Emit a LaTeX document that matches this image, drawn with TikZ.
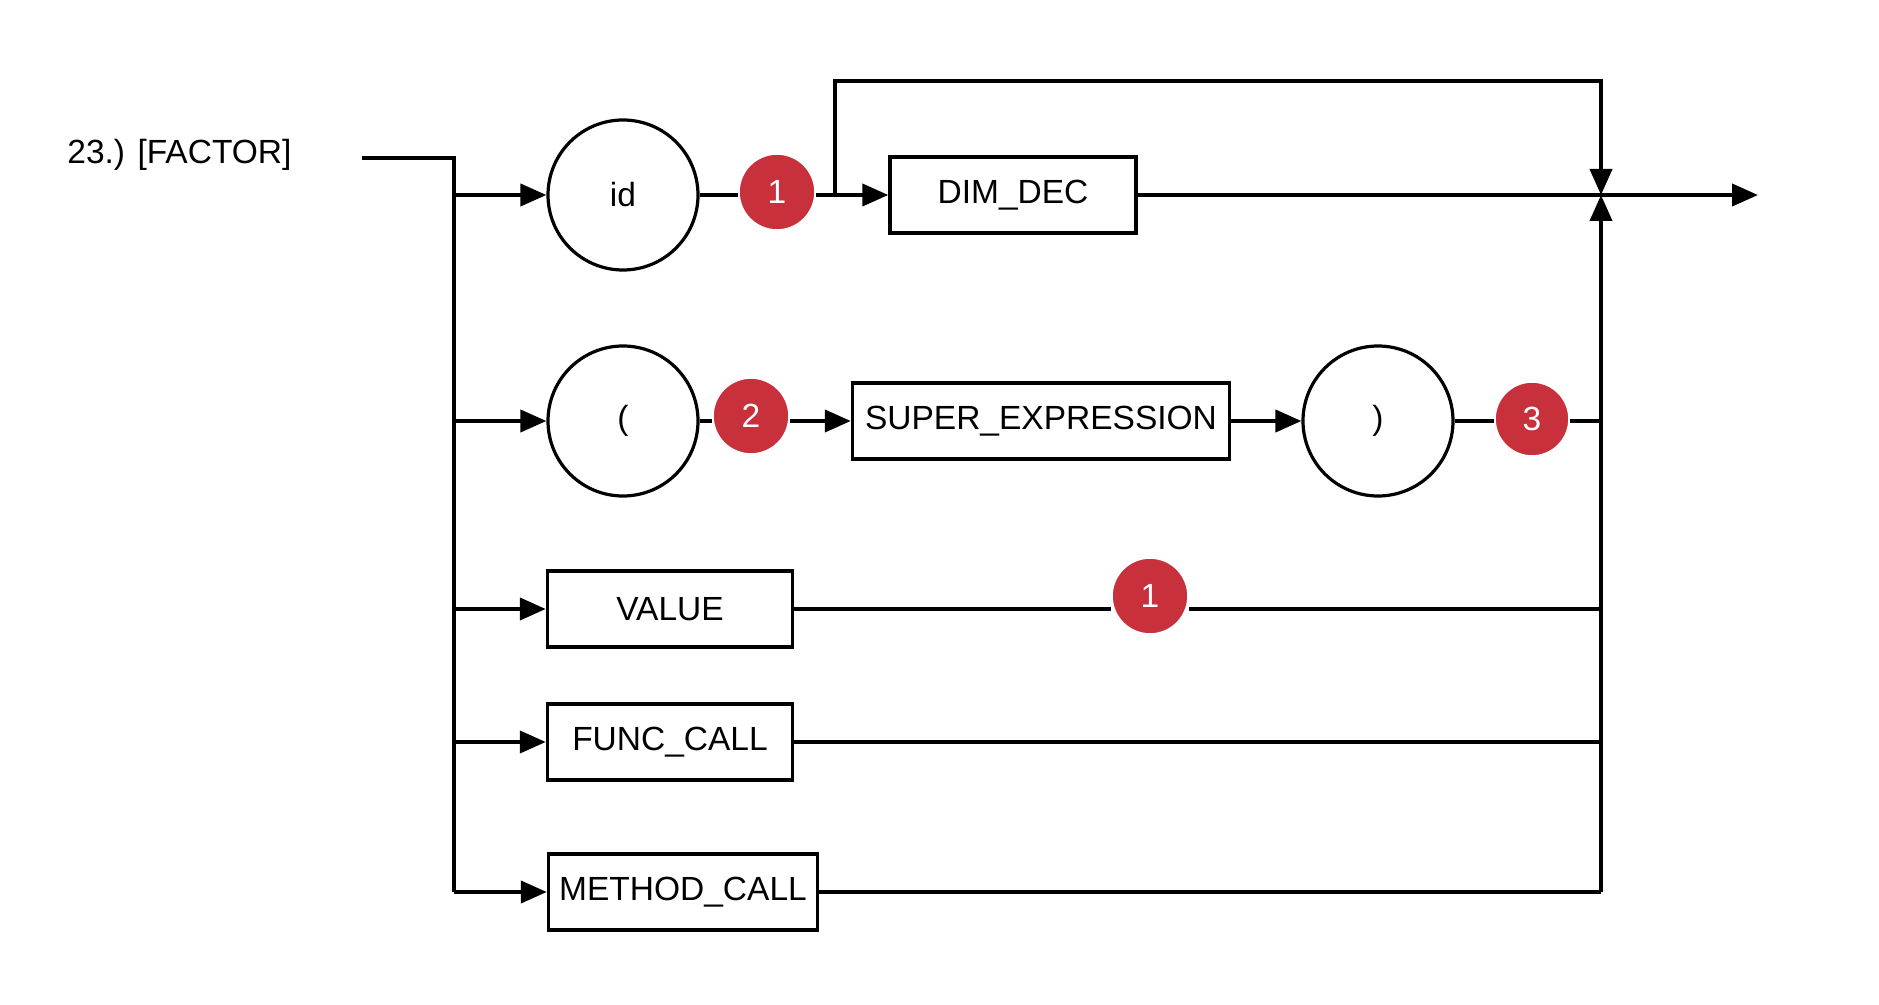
\documentclass[tikz,border=0pt]{standalone}
\usepackage{fontspec}
\setmainfont{Liberation Sans}
\usetikzlibrary{arrows.meta}
\definecolor{badgered}{RGB}{200,48,60}

\tikzset{
    rulebox/.style={draw, line width=1.7pt, minimum height=38pt, inner sep=0pt},
    termcircle/.style={draw, circle, line width=1.6pt, minimum size=75pt, inner sep=0pt},
    badge/.style={circle, fill=badgered, draw=white, line width=0.8pt, minimum size=38pt, inner sep=0pt, text=white},
    wire/.style={line width=2pt},
    flow/.style={wire, -{Triangle[length=13pt,width=11pt]}}
}

\begin{document}
\begin{tikzpicture}[x=0.5pt, y=-0.5pt, font=\fontsize{16.75}{20}\selectfont]
    \useasboundingbox (0,0) rectangle (1879,1005);

    \node[anchor=west, inner sep=0pt] (title) at (67,155) {23.) [FACTOR]};

    \node[termcircle] (id) at (623,195) {id};
    \node[badge] (b1) at (777,192) {1};
    \node[rulebox, minimum width=123pt] (dimdec) at (1013,195) {DIM\_DEC};

    \node[termcircle] (lparen) at (623,421) {(};
    \node[badge] (b2) at (751,416) {2};
    \node[rulebox, minimum width=188.5pt] (superexpr) at (1041,421) {SUPER\_EXPRESSION};
    \node[termcircle] (rparen) at (1378,421) {)};
    \node[badge, minimum size=37pt] (b3) at (1532,419) {3};

    \node[rulebox, minimum width=122.5pt] (value) at (670,609) {VALUE};
    \node[badge] (b4) at (1150,596) {1};
    \node[rulebox, minimum width=122.5pt] (funccall) at (670,742) {FUNC\_CALL};
    \node[rulebox, minimum width=134.5pt] (methodcall) at (683,892) {METHOD\_CALL};

    \coordinate (start) at (362,158);
    \coordinate (fork) at (454,158);
    \coordinate (forkend) at (454,892);
    \coordinate (bypass) at (835,195);
    \coordinate (top) at (1601,81);
    \coordinate (join) at (1601,195);
    \coordinate (joinlow) at (1601,892);
    \coordinate (out) at (1758,195);

    % entry and branches
    \draw[wire] (start) -- (fork) -- (forkend);
    \draw[flow] (fork |- id) -- (id);
    \draw[flow] (fork |- lparen) -- (lparen);
    \draw[flow] (fork |- value) -- (value);
    \draw[flow] (fork |- funccall) -- (funccall);
    \draw[flow] (fork |- methodcall) -- (methodcall);

    % row 1
    \draw[wire] (id) -- (id -| b1.west);
    \draw[wire] (b1.east |- bypass) -- (bypass);
    \draw[flow] (bypass) -- (dimdec);
    \draw[flow] (bypass) |- (top) -- (join);
    \draw[flow] (dimdec) -- (out);

    % row 2
    \draw[wire] (lparen) -- (lparen -| b2.west);
    \draw[flow] (b2.east |- superexpr) -- (superexpr);
    \draw[flow] (superexpr) -- (rparen);
    \draw[wire] (rparen) -- (rparen -| b3.west);
    \draw[wire] (b3.east |- rparen) -- (rparen -| join);

    % rows 3 to 5
    \draw[wire] (value) -- (value -| b4.west);
    \draw[wire] (value -| b4.east) -- (value -| join);
    \draw[wire] (funccall) -- (funccall -| join);
    \draw[wire] (methodcall) -- (joinlow);
    \draw[flow] (joinlow) -- (join);
\end{tikzpicture}
\end{document}
